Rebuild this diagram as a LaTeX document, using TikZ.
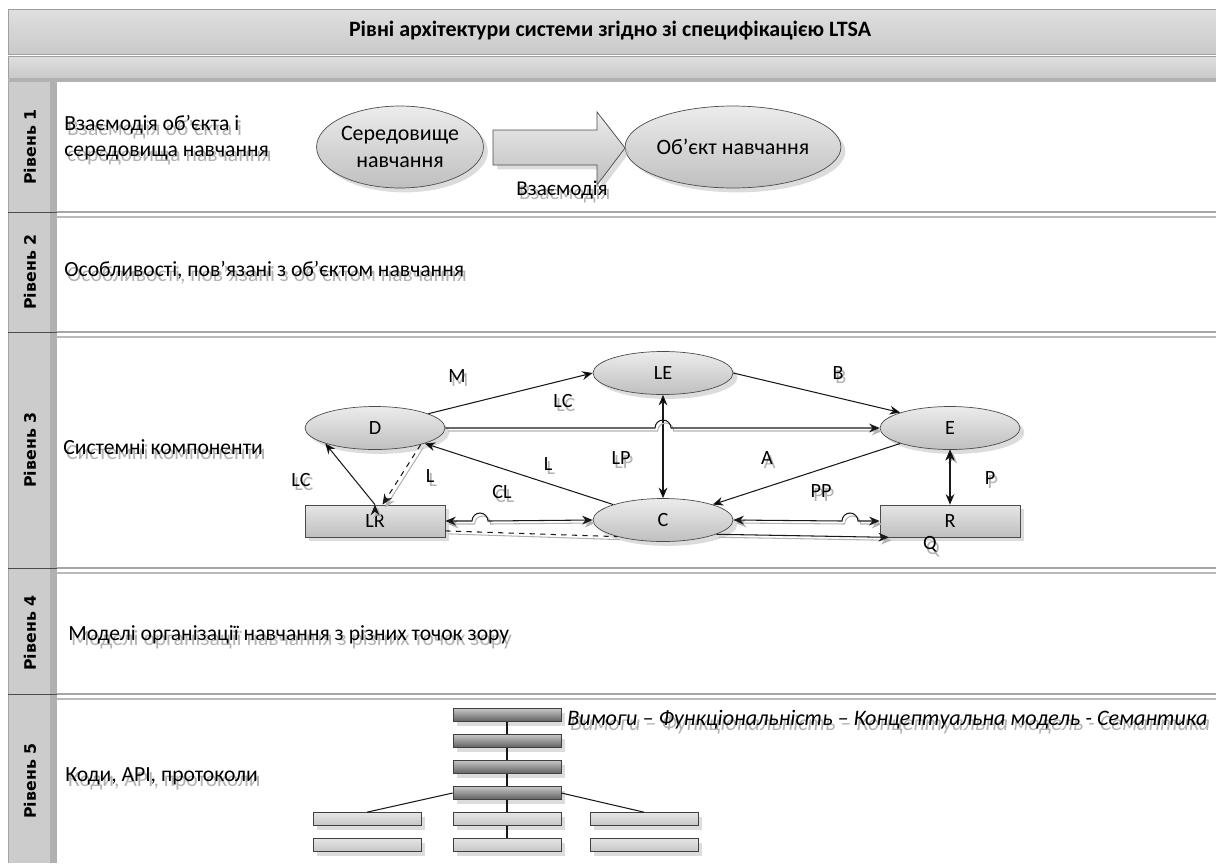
\documentclass[tikz,border=0pt]{standalone}
\usepackage{fontspec}
\setmainfont{Carlito}
\newfontfamily\lanefont{DejaVu Sans}
\usetikzlibrary{arrows.meta,shadows,shapes.geometric}

\newcommand\ghost[1]{\makebox[0pt][l]{\hspace{1.6pt}\raisebox{-2.8pt}{\textcolor{gray!60}{#1}}}#1}

\tikzset{
  >={Stealth[length=6pt,width=5pt]},
  band/.style={draw=gray!75,top color=gray!25,bottom color=gray!42},
  lane/.style={font=\lanefont\bfseries\fontsize{9}{10}\selectfont,rotate=90},
  info/.style={anchor=west,font=\fontsize{12.3}{14.5}\selectfont,align=left,inner sep=0pt},
  shade/.style={drop shadow={shadow xshift=2.5pt,shadow yshift=-2.5pt,fill=gray!55}},
  comp/.style={ellipse,draw=gray!60!black,top color=gray!15,bottom color=gray!50,shade,
    minimum width=2.8cm,minimum height=0.86cm,inner sep=0pt,font=\fontsize{11.5}{13}\selectfont},
  big/.style={comp,minimum width=3cm,minimum height=1.64cm,align=center,font=\fontsize{12.5}{15}\selectfont},
  store/.style={rectangle,draw=gray!60!black,top color=gray!20,bottom color=gray!50,shade,
    minimum width=2.8cm,minimum height=0.64cm,inner sep=0pt,font=\fontsize{11.5}{13}\selectfont},
  link/.style={draw=gray!20!black,line width=0.6pt,
    preaction={draw=gray!60,line width=0.6pt,transform canvas={shift={(1.5pt,-1.7pt)}}}},
  lbl/.style={font=\fontsize{11.5}{13}\selectfont,inner sep=0pt},
  bar/.style={rectangle,draw=gray!50!black,top color=gray!45,bottom color=gray!75!black,shade,
    minimum width=2.16cm,minimum height=0.26cm,inner sep=0pt},
  subbar/.style={bar,top color=gray!20,bottom color=gray!45},
}

\begin{document}
\begin{tikzpicture}[x=0.02cm,y=-0.02cm]
\useasboundingbox (0,0) rectangle (1216,863);

% header
\path[band] (8,9) rectangle (1220,54);
\path[band] (8,56) rectangle (1220,78);
\fill[gray!60] (8,78) rectangle (1220,82);
\node (title) at (610,31) {\bfseries\fontsize{12.5}{14}\selectfont Рівні архітектури системи згідно зі специфікацією LTSA};

% lanes
\fill[gray!40] (8,82) rectangle (50,863);
\fill[gray!62] (50,82) rectangle (57,863);
\draw[gray!70] (8,82) -- (8,863);
\foreach \y in {212,332,568,694} {
  \draw[gray!60!black] (8,\y) -- (57,\y);
  \draw[gray!70,line width=0.8pt] (57,\y) -- (1220,\y);
  \draw[gray!55,line width=0.8pt] (57,\y+5) -- (1220,\y+5);
}
\node[lane] (r1) at (30,147) {Рівень 1};
\node[lane] (r2) at (30,272) {Рівень 2};
\node[lane] (r3) at (30,450) {Рівень 3};
\node[lane] (r4) at (30,633) {Рівень 4};
\node[lane] (r5) at (30,781) {Рівень 5};

\node[info] (t1) at (64,140) {\ghost{Взаємодія об’єкта і}\\\ghost{середовища навчання}};
\node[info] (t2) at (64,273) {\ghost{Особливості, пов’язані з об’єктом навчання}};
\node[info] (t3) at (63,450) {\ghost{Системні компоненти}};
\node[info] (t4) at (68,637) {\ghost{Моделі організації навчання з різних точок зору}};
\node[info] (t5) at (65,779) {\ghost{Коди, API, протоколи}};

% level 1
\node[big] (env) at (400,147) {Середовище\\навчання};
\node[big,minimum width=3.4cm] (obj) at (733,147) {Об’єкт навчання};
\draw[gray!60!black,top color=gray!15,bottom color=gray!50,shade]
  (493,130) -- (597,130) -- (597,112) -- (625,148) -- (597,185) -- (597,165) -- (493,165) -- cycle;
\node[lbl,font=\fontsize{12}{14}\selectfont] (act) at (562,192) {\ghost{Взаємодія}};

% level 3
\node[comp] (D) at (375,428) {D};
\node[comp] (LE) at (663,373) {LE};
\node[comp] (E) at (950,428) {E};
\node[comp] (C) at (663,520) {C};
\node[store] (LR) at (375,521) {LR};
\node[store] (R) at (950,521) {R};

\path[link,->] (D.15) edge (LE.west)
  (LE.east) edge (E.north west)
  (C.north west) edge (D.south east)
  (E.south west) edge (C.north east)
  (LR.north) edge (D.south west);
\path[link,<->] (LE.south) edge (C.north)
  (E.south) edge (R.north);
\draw[link,->] (D.east) -- (655,428) arc[start angle=180,end angle=360,radius=8] -- (E.west);
\draw[link,<->] (LR.east) -- (472,521) arc[start angle=180,end angle=360,radius=8] -- (C.west);
\draw[link,<->] (C.east) -- (842,521) arc[start angle=180,end angle=360,radius=8] -- (R.west);
\draw[link,->,dashed] (D.-20) -- ([xshift=1.5mm]LR.north);
\draw[link,dashed] (LR.-8) -- (C.200);
\draw[link,->] (C.-15) -- (R.-165);

\node[lbl] (lM) at (457,378) {\ghost{M}};
\node[lbl] (lLC) at (563,403) {\ghost{LC}};
\node[lbl] (lB) at (838,375) {\ghost{B}};
\node[lbl] (lLC2) at (301,482) {\ghost{LC}};
\node[lbl] (lL) at (430,478) {\ghost{L}};
\node[lbl] (lL2) at (548,466) {\ghost{L}};
\node[lbl] (lLP) at (621,460) {\ghost{LP}};
\node[lbl] (lA) at (767,460) {\ghost{A}};
\node[lbl] (lCL) at (502,494) {\ghost{CL}};
\node[lbl] (lPP) at (821,493) {\ghost{PP}};
\node[lbl] (lP) at (990,480) {\ghost{P}};
\node[lbl] (lQ) at (930,547) {\ghost{Q}};

% level 5
\node[bar] (b1) at (507,715) {};
\node[bar] (b2) at (507,741) {};
\node[bar] (b3) at (507,767) {};
\node[bar] (b4) at (507,793) {};
\node[subbar] (m1) at (507,819) {};
\node[subbar] (m2) at (507,845) {};
\node[subbar] (l1) at (367,819) {};
\node[subbar] (l2) at (367,845) {};
\node[subbar] (q1) at (644,819) {};
\node[subbar] (q2) at (644,845) {};
\path[link] (b1) edge (b2) (b2) edge (b3) (b3) edge (b4) (b4) edge (m1) (m1) edge (m2)
  (b4.west) edge (l1.north) (b4.east) edge (q1.north);
\node[info,font=\itshape\fontsize{12.6}{14}\selectfont] (spec) at (567,722)
  {\ghost{Вимоги – Функціональність – Концептуальна модель - Семантика}};
\end{tikzpicture}
\end{document}
